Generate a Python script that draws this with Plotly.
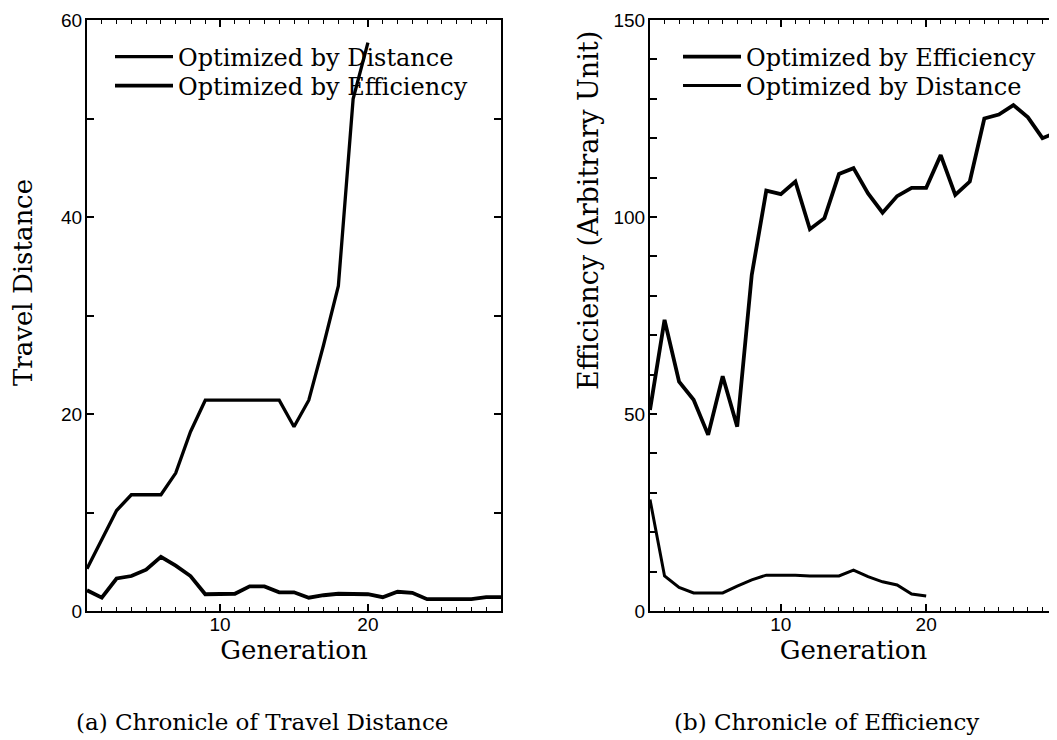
import plotly.graph_objects as go

# ---------------- data ----------------
gen_all = list(range(1, 30))
gen_20 = list(range(1, 21))

# (a) Travel distance
dist_by_distance = [4.3, 7.2, 10.2, 11.8, 11.8, 11.8, 14.0, 18.2, 21.4, 21.4,
                    21.4, 21.4, 21.4, 21.4, 18.7, 21.4, 27.0, 33.0, 52.0, 57.7]
dist_by_efficiency = [2.1, 1.35, 3.3, 3.55, 4.2, 5.5, 4.6, 3.55, 1.7, 1.75,
                      1.75, 2.5, 2.5, 1.9, 1.9, 1.35, 1.6, 1.75, 1.75, 1.7,
                      1.4, 1.95, 1.85, 1.2, 1.2, 1.2, 1.2, 1.4, 1.4]

# (b) Efficiency
eff_by_efficiency = [51.0, 73.9, 58.2, 53.6, 44.7, 59.6, 46.8, 85.3, 106.7, 105.8,
                     109.0, 96.9, 99.7, 110.9, 112.4, 106.0, 101.1, 105.3, 107.4, 107.4,
                     115.7, 105.6, 109.0, 125.0, 126.0, 128.4, 125.3, 120.0, 121.5]
eff_by_distance = [28.3, 8.9, 6.0, 4.6, 4.6, 4.6, 6.3, 7.9, 9.1, 9.1,
                   9.1, 8.9, 8.9, 8.9, 10.4, 8.7, 7.4, 6.6, 4.3, 3.8]

left_ticks = [0, 20, 40, 60]
right_ticks = [0, 50, 100, 150]
x_ticks = [10, 20]

name_dist = "Optimized by Distance"
name_eff = "Optimized by Efficiency"
caption_a = "(a) Chronicle of Travel Distance"
caption_b = "(b) Chronicle of Efficiency"
xtitle = "Generation"
ytitle_a = "Travel Distance"
ytitle_b = "Efficiency (Arbitrary Unit)"

# ---------------- figure ----------------
# the page body has an 8px margin, so the figure is sized to fit the window
OFF = 8
W, H = 1057 - OFF, 740 - OFF
SERIF = "DejaVu Serif"
SANS = "Liberation Sans, Arial, sans-serif"

fig = go.Figure()

fig.add_trace(go.Scatter(x=gen_20, y=dist_by_distance, mode="lines", name=name_dist,
                         line=dict(color="black", width=3.3), xaxis="x", yaxis="y",
                         legend="legend"))
fig.add_trace(go.Scatter(x=gen_all, y=dist_by_efficiency, mode="lines", name=name_eff,
                         line=dict(color="black", width=3.8), xaxis="x", yaxis="y",
                         legend="legend2"))
fig.add_trace(go.Scatter(x=gen_all, y=eff_by_efficiency, mode="lines", name=name_eff,
                         line=dict(color="black", width=3.8), xaxis="x2", yaxis="y2",
                         legend="legend3"))
fig.add_trace(go.Scatter(x=gen_20, y=eff_by_distance, mode="lines", name=name_dist,
                         line=dict(color="black", width=3.0), xaxis="x2", yaxis="y2",
                         legend="legend4"))

def px_x(p):
    return (p - OFF) / W

def px_y(p):
    return 1 - (p - OFF) / H

common_axis = dict(showline=True, linecolor="black", linewidth=2, mirror="ticks",
                   ticks="inside", tickcolor="black", tickwidth=1.5, showgrid=False,
                   zeroline=False, automargin=False,
                   tickfont=dict(family=SANS, size=19, color="black"))

xaxis_common = dict(common_axis, range=[1, 29], tickvals=x_ticks, ticklen=7,
                    ticklabelstandoff=-5,
                    minor=dict(dtick=1, tick0=0, ticks="inside", ticklen=4,
                               tickcolor="black", tickwidth=1.2, showgrid=False),
                    title=dict(text=xtitle, font=dict(family=SERIF, size=26, color="black"),
                               standoff=0))

fig.update_layout(
    width=W, height=H,
    margin=dict(l=0, r=0, t=0, b=0, autoexpand=False),
    paper_bgcolor="white", plot_bgcolor="white",
    xaxis=dict(xaxis_common, domain=[px_x(87), px_x(501)], anchor="y"),
    yaxis=dict(common_axis, domain=[px_y(611), px_y(20)], range=[0, 60],
               tickvals=left_ticks, ticklen=7, anchor="x", ticklabelstandoff=-1,
               minor=dict(dtick=10, tick0=0, ticks="inside", ticklen=7,
                          tickcolor="black", tickwidth=1.5, showgrid=False)),
    xaxis2=dict(xaxis_common, domain=[px_x(650), 1.0], anchor="y2"),
    yaxis2=dict(common_axis, domain=[px_y(611), px_y(20)], range=[0, 150],
                tickvals=right_ticks, ticklen=7, anchor="x2", ticklabelstandoff=-1,
                minor=dict(dtick=10, tick0=0, ticks="inside", ticklen=7,
                           tickcolor="black", tickwidth=1.5, showgrid=False)),
    showlegend=True,
)

leg_common = dict(xanchor="left", yanchor="middle", bgcolor="rgba(0,0,0,0)",
                  borderwidth=0, itemwidth=58,
                  font=dict(family=SERIF, size=24, color="black"))
fig.update_layout(
    legend=dict(leg_common, x=px_x(110), y=px_y(57)),
    legend2=dict(leg_common, x=px_x(110), y=px_y(86)),
    legend3=dict(leg_common, x=px_x(678), y=px_y(57)),
    legend4=dict(leg_common, x=px_x(678), y=px_y(86)),
)

# y-axis titles (placed like the original's, above the axis centre)
fig.add_annotation(text=ytitle_a, xref="paper", yref="paper", x=px_x(23), y=px_y(283),
                   textangle=-90, showarrow=False, xanchor="center", yanchor="middle",
                   font=dict(family=SERIF, size=26, color="black"))
fig.add_annotation(text=ytitle_b, xref="paper", yref="paper", x=px_x(588), y=px_y(211),
                   textangle=-90, showarrow=False, xanchor="center", yanchor="middle",
                   font=dict(family=SERIF, size=27, color="black"))

fig.add_annotation(text=caption_a, xref="paper", yref="paper", x=px_x(262), y=px_y(722),
                   showarrow=False, xanchor="center", yanchor="middle",
                   font=dict(family=SERIF, size=23, color="black"))
fig.add_annotation(text=caption_b, xref="paper", yref="paper", x=px_x(826), y=px_y(722),
                   showarrow=False, xanchor="center", yanchor="middle",
                   font=dict(family=SERIF, size=23, color="black"))

fig.write_html("out.html")
